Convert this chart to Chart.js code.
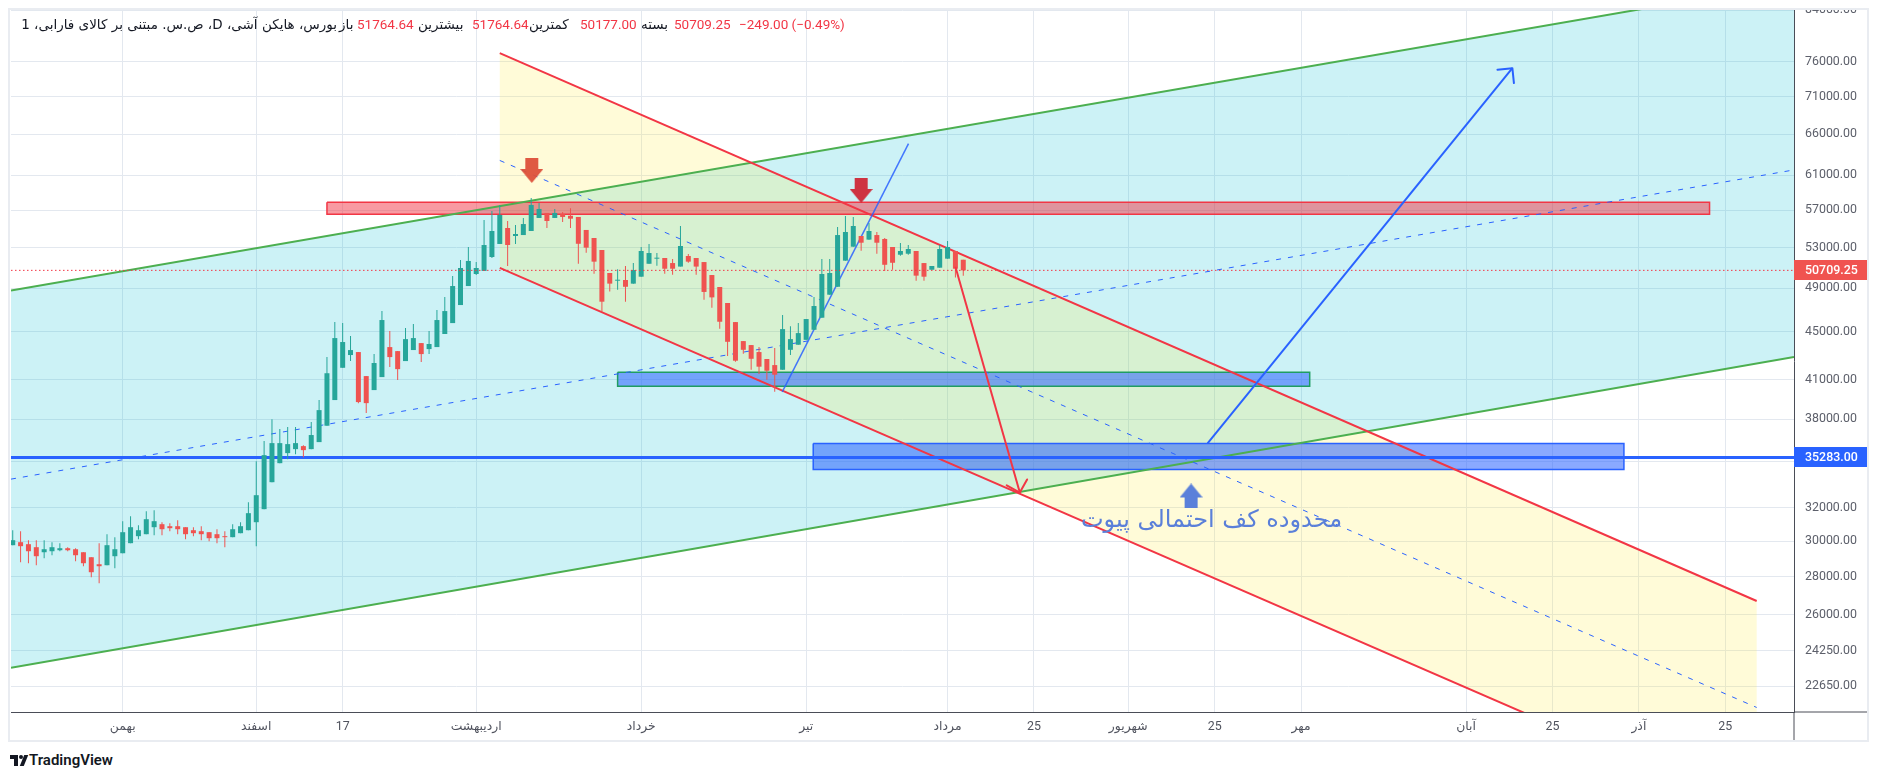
<!DOCTYPE html>
<html lang="fa">
<head>
<meta charset="utf-8">
<title>ص.س. مبتنی بر کالای فارابی</title>
<script src="https://cdn.jsdelivr.net/npm/chart.js@4.4.1/dist/chart.umd.min.js"></script>
<style>
  html, body { margin: 0; padding: 0; background: #fff; width: 1879px; height: 781px; overflow: hidden; }
  #frame { position: absolute; left: 8px; top: 8px; width: 1857px; height: 730px; border: 2px solid #e9ecf1; }
  #chart { position: absolute; left: 0; top: 0; }
  .lg { position: absolute; top: 5px; line-height: 18px; font-size: 13.5px; white-space: nowrap; color: #131722; font-family: Roboto, "DejaVu Sans", sans-serif; }
  .fa { font-family: "DejaVu Sans", sans-serif; direction: rtl; }
  .val { color: #f23645; }
  #brand { position: absolute; left: 10px; top: 751px; height: 18px; font-family: Roboto, sans-serif; font-size: 15px; font-weight: 600; color: #131722; }
  #brand .t1 { position: absolute; left: 0; top: 4px; width: 8px; height: 4px; background: #131722; }
  #brand .t2 { position: absolute; left: 4px; top: 4px; width: 4px; height: 11px; background: #131722; }
  #brand .t3 { position: absolute; left: 9px; top: 4px; width: 4px; height: 4px; border-radius: 2px; background: #131722; }
  #brand .t4 { position: absolute; left: 12px; top: 4px; width: 4px; height: 11px; background: #131722; transform: skewX(-22deg); }
  #brand span { position: absolute; left: 19px; top: 0; }
</style>
</head>
<body>
<div id="frame">
  <canvas id="chart" width="1857" height="730"></canvas>
  <div class="lg fa" style="left:0;width:327px;text-align:right;">بورس، هایکن آشی، D، ص.س. مبتنی بر کالای فارابی، 1</div>
  <div class="lg fa" style="left:329px;">باز</div>
  <div class="lg val" style="left:347px;">51764.64</div>
  <div class="lg fa" style="left:408px;">بیشترین</div>
  <div class="lg val" style="left:462px;">51764.64</div>
  <div class="lg fa" style="left:519px;">کمترین</div>
  <div class="lg val" style="left:570px;">50177.00</div>
  <div class="lg fa" style="left:631px;">بسته</div>
  <div class="lg val" style="left:664px;">50709.25</div>
  <div class="lg val" style="left:729px;">−249.00 (−0.49%)</div>
</div>
<div id="brand"><i class="t1"></i><i class="t2"></i><i class="t3"></i><i class="t4"></i><span>TradingView</span></div>
<script>
// daily heikin ashi candles, one per trading day
const haOpen = [29764, 29938, 29822, 29648, 29360, 29417, 29474, 29590, 29532, 29360,
  29077, 28685, 28630, 29134, 29303, 29880, 30288, 30405, 30820, 31000,
  30880, 30880, 30820, 30641, 30582, 30523, 30405, 30288, 30230, 30464,
  30641, 31120, 31917, 33630, 34893, 35580, 35856, 36066, 35856, 36347,
  37520, 39434, 41980, 43030, 43280, 41310, 40204, 41230, 43700, 43360,
  42530, 43449, 44040, 43530, 43700, 44820, 45780, 47410, 49190, 50350,
  50650, 52040, 53370, 55050, 54200, 54300, 54730, 56130, 56680, 56130,
  56570, 56370, 56240, 54840, 53990, 52750, 50450, 49700, 49770, 49420,
  50090, 51360, 51870, 51940, 51430, 51080, 52140, 51940, 51530, 50250,
  49100, 47600, 45870, 44210, 43870, 43280, 42700, 42200, 41820, 43470,
  43900, 44320, 45190, 46260, 48370, 49120, 51670, 53090, 54200, 53820,
  54300, 53890, 53060, 52270, 52370, 52650, 51430, 50770, 50970, 51870,
  52650, 51764.64];
const haHigh = [30641, 30582, 30054, 30054, 30054, 29938, 29880, 29648, 29590, 29360,
  29077, 29880, 30405, 30230, 31181, 31485, 30940, 31793, 31855, 31120,
  31060, 31241, 30820, 30820, 30880, 30523, 30700, 30582, 31000, 31120,
  32353, 35030, 36418, 38003, 37275, 37420, 37420, 36130, 37784, 39434,
  42860, 45870, 45780, 44640, 43280, 41310, 43110, 46860, 45080, 43360,
  45340, 45700, 44040, 45080, 46953, 48150, 50150, 51736, 53060, 51540,
  55910, 56900, 57560, 55800, 55360, 56130, 58350, 57790, 56680, 57120,
  56790, 57200, 56240, 54840, 53990, 52750, 50450, 50810, 51140, 51430,
  53060, 53370, 52440, 51940, 51840, 55260, 52340, 51940, 51530, 50250,
  49100, 47600, 45870, 44210, 43870, 43700, 42700, 43620, 46500, 45510,
  45780, 46140, 48150, 51840, 51840, 55150, 56350, 56240, 54200, 55580,
  54620, 53990, 53060, 53470, 53260, 52650, 51430, 51140, 53260, 53680,
  52650, 51764.64];
const haLow = [29764, 28796, 28741, 28630, 29021, 29190, 29417, 29417, 28852, 28574,
  27973, 27650, 28630, 28463, 29303, 29880, 30112, 30405, 30347, 30347,
  30582, 30405, 30112, 30288, 30054, 29996, 29880, 29648, 30230, 30464,
  30641, 29706, 31917, 33630, 34893, 35166, 35510, 35303, 35856, 36347,
  37520, 39434, 41980, 42530, 39200, 38450, 40204, 41230, 42040, 40992,
  42530, 43449, 42450, 43110, 43700, 44820, 45780, 47410, 49190, 50260,
  50650, 51940, 53370, 51140, 53370, 54300, 54730, 56130, 55050, 56130,
  55690, 55060, 51350, 52470, 50380, 46800, 48660, 48840, 47720, 49420,
  50090, 51360, 51160, 50380, 50290, 51080, 51460, 50290, 47900, 47170,
  45280, 42960, 42480, 43130, 41820, 41480, 41010, 40070, 41820, 43040,
  43900, 44320, 45190, 46260, 48370, 49120, 51670, 53090, 52680, 53820,
  52360, 50650, 50770, 52170, 52270, 49700, 49700, 50770, 50970, 51870,
  50000, 50177];
const haClose = [30054, 29706, 29417, 29134, 29532, 29648, 29590, 29474, 29190, 28741,
  28244, 28574, 29764, 29532, 30523, 30820, 30641, 31302, 31181, 30700,
  30760, 30700, 30405, 30464, 30405, 30170, 30170, 30230, 30700, 30880,
  31670, 32793, 35440, 36277, 36277, 36206, 36277, 35786, 36849, 38673,
  41540, 44470, 44130, 43449, 39280, 39200, 42370, 46052, 42860, 41870,
  44380, 44470, 43110, 43960, 46052, 46860, 49190, 50940, 51640, 50940,
  53260, 54730, 56460, 53260, 54410, 55470, 57560, 57120, 55800, 56680,
  56240, 56050, 53390, 52990, 51570, 47720, 49420, 49770, 49120, 50740,
  52650, 52440, 51940, 50870, 50870, 53160, 51570, 51080, 48630, 48120,
  45900, 44150, 42560, 43470, 42720, 42070, 41740, 41420, 45250, 44380,
  44900, 46140, 47320, 50350, 50450, 54300, 54620, 55260, 53500, 54730,
  53500, 51260, 51460, 52650, 52850, 50190, 50090, 51140, 52850, 53060,
  50870, 50709.25];

const xTickIdx = [14, 31, 42, 59, 80, 101, 119, 130, 142, 153, 164, 185, 196, 207, 218];
const xTickLabels = ['بهمن', 'اسفند', '17', 'اردیبهشت', 'خرداد', 'تیر', 'مرداد', '25', 'شهریور', '25', 'مهر', 'آبان', '25', 'آذر', '25'];
const yTicks = [22650, 24250, 26000, 28000, 30000, 32000, 35000, 38000, 41000, 45000, 49000, 53000, 57000, 61000, 66000, 71000, 76000, 84000];
const xRange = [-0.22, 226.75];
const yRange = [21540, 84000];

// drawings on the chart, points are [bar index, price]
const greenUpper = [[-0.22, 48770], [226.75, 88560]];
const greenLower = [[-0.22, 23470], [226.75, 42860]];
const greenMid = [[-0.22, 33830], [226.75, 61610]];
const redUpper = [[62, 77260], [222, 26710]];
const redLower = [[62, 50960], [222, 17680]];
const redMid = [[62, 62750], [222, 21730]];
const resistZone = [40, 216, 56540, 57860];
const supportZone = [77, 165.1, 40500, 41610];
const pivotZone = [101.9, 205.1, 34470, 36250];
const pivotLevel = 35283;
const lastClose = 50709.25;
const trendLine = [[97.96, 40070], [114.03, 64820]];
const upArrow = [[152.1, 36250], [190.9, 75040]];
const downArrow = [[120.0, 51070], [128.2, 32960]];
const topMarks = [[66.07, 61545], [108.0, 59200]];
const pivotMark = [[150.0, 32745]];
const pivotNote = [152.6, 31180];
const noteText = 'محدوده کف احتمالی پیوت';

const fontFamily = 'Roboto, "DejaVu Sans", sans-serif';
const candleColor = haClose.map((c, i) => c >= haOpen[i] ? '#26a69a' : '#ef5350');

function makeArrow(color, up) {
  const c = document.createElement('canvas');
  c.width = 23; c.height = 25;
  const g = c.getContext('2d');
  g.fillStyle = color;
  if (up) { g.translate(0, 25); g.scale(1, -1); }
  g.fillRect(5, 0, 13, 11);
  g.beginPath();
  g.moveTo(0, 11); g.lineTo(23, 11); g.lineTo(11.5, 25);
  g.closePath();
  g.fill();
  return c;
}

function segment(points, color, width, dash, order, extra) {
  return Object.assign({
    type: 'line',
    data: points.map(p => ({ x: p[0], y: p[1] })),
    borderColor: color,
    borderWidth: width,
    borderDash: dash || [],
    pointRadius: 0,
    fill: false,
    tension: 0,
    clip: 0,
    order: order
  }, extra || {});
}

function box(z, fillColor, lineColor, order) {
  const pts = [[z[0], z[3]], [z[1], z[3]], [z[1], z[2]], [z[0], z[2]], [z[0], z[3]]];
  return segment(pts, lineColor, 1.5, null, order, { fill: 'shape', backgroundColor: fillColor, borderJoinStyle: 'miter' });
}

function band(upper, lower, fillColor, order) {
  const pts = [upper[0], upper[1], lower[1], lower[0], upper[0]];
  return segment(pts, 'rgba(0,0,0,0)', 0, null, order, { fill: 'shape', backgroundColor: fillColor });
}

const chartPlugin = {
  id: 'drawings',
  afterDatasetsDraw(chart) {
    const ctx = chart.ctx;
    chart.data.datasets.forEach((ds, i) => {
      if (!ds.arrowHead) return;
      const pts = chart.getDatasetMeta(i).data;
      const a = pts[pts.length - 2], b = pts[pts.length - 1];
      const ang = Math.atan2(b.y - a.y, b.x - a.x);
      ctx.save();
      ctx.strokeStyle = ds.borderColor;
      ctx.lineWidth = ds.borderWidth;
      ctx.lineCap = 'round';
      ctx.beginPath();
      [Math.PI * 0.75, -Math.PI * 0.75].forEach(d => {
        ctx.moveTo(b.x, b.y);
        ctx.lineTo(b.x + 15 * Math.cos(ang + d), b.y + 15 * Math.sin(ang + d));
      });
      ctx.stroke();
      ctx.restore();
    });

    const { x, y } = chart.scales;
    ctx.save();
    ctx.font = '24px "DejaVu Sans", sans-serif';
    ctx.fillStyle = '#5a7fd9';
    ctx.textAlign = 'center';
    ctx.textBaseline = 'middle';
    ctx.direction = 'rtl';
    ctx.fillText(noteText, x.getPixelForValue(pivotNote[0]), y.getPixelForValue(pivotNote[1]));
    ctx.restore();
  },
  afterDraw(chart) {
    const { ctx, chartArea: a } = chart;
    const y = chart.scales.y;
    ctx.save();
    ctx.strokeStyle = '#4a4d57';
    ctx.lineWidth = 1;
    ctx.beginPath();
    ctx.moveTo(a.right, a.bottom); ctx.lineTo(chart.width, a.bottom);
    ctx.moveTo(a.right, a.bottom); ctx.lineTo(a.right, chart.height);
    ctx.stroke();
    [[lastClose, '#f05350'], [pivotLevel, '#2962ff']].forEach(([v, bg]) => {
      const py = Math.round(y.getPixelForValue(v));
      ctx.fillStyle = bg;
      ctx.fillRect(a.right, py - 10, chart.width - a.right, 20);
      ctx.fillStyle = '#fff';
      ctx.font = '500 12.4px ' + fontFamily;
      ctx.textAlign = 'left';
      ctx.textBaseline = 'middle';
      ctx.fillText(v.toFixed(2), a.right + 11, py + 1);
    });
    ctx.restore();
  }
};

const datasets = [
  band(greenUpper, greenLower, 'rgba(0,188,212,0.2)', 20),
  band(redUpper, redLower, 'rgba(255,235,59,0.2)', 19),
  box(resistZone, 'rgba(242,54,69,0.5)', '#f23645', 18),
  box(supportZone, 'rgba(41,98,255,0.55)', '#1f9d62', 17),
  box(pivotZone, 'rgba(41,98,255,0.55)', '#2962ff', 16),
  segment(greenUpper, '#4caf50', 2, null, 15),
  segment(greenLower, '#4caf50', 2, null, 15),
  segment(greenMid, '#2962ff', 1, [5, 7], 15),
  segment(redUpper, '#f23645', 2, null, 14),
  segment(redLower, '#f23645', 2, null, 14),
  segment(redMid, '#2962ff', 1, [5, 7], 14),
  segment(trendLine, 'rgba(41,98,255,0.85)', 1.5, null, 13),
  segment([[xRange[0], pivotLevel], [xRange[1], pivotLevel]], '#2962ff', 3, null, 12),
  {
    type: 'bar',
    data: haHigh.map((h, i) => ({ x: i, y: [haLow[i], h] })),
    backgroundColor: candleColor,
    barThickness: 1,
    grouped: false,
    inflateAmount: 0,
    order: 6
  },
  {
    type: 'bar',
    data: haOpen.map((o, i) => ({ x: i, y: [o, haClose[i]] })),
    backgroundColor: candleColor,
    barThickness: 5,
    minBarLength: 1,
    grouped: false,
    inflateAmount: 0,
    order: 5
  },
  segment([[xRange[0], lastClose], [xRange[1], lastClose]], '#f23645', 1, [1.5, 2.5], 4),
  segment(upArrow, '#2962ff', 2, null, 3, { arrowHead: true }),
  segment(downArrow, '#f23645', 2, null, 3, { arrowHead: true }),
  segment(topMarks, '#d0303f', 0, null, 1, {
    showLine: false, pointRadius: 12,
    pointStyle: [makeArrow('rgba(221,80,58,0.95)', false), makeArrow('rgba(205,40,55,0.95)', false)]
  }),
  segment(pivotMark, '#5a80da', 0, null, 1, {
    showLine: false, pointRadius: 12,
    pointStyle: makeArrow('#5a80da', true)
  })
];

new Chart(document.getElementById('chart'), {
  type: 'line',
  data: { datasets },
  options: {
    responsive: false,
    animation: false,
    events: [],
    layout: { autoPadding: false, padding: { left: 1, top: 0, right: 0, bottom: 0 } },
    plugins: { legend: { display: false }, tooltip: { enabled: false } },
    scales: {
      x: {
        type: 'linear',
        min: xRange[0],
        max: xRange[1],
        offset: false,
        grid: { color: '#e3e8ef', drawTicks: false, offset: false },
        border: { display: true, color: '#4a4d57', width: 1 },
        afterBuildTicks: s => { s.ticks = xTickIdx.map(v => ({ value: v })); },
        afterFit: s => { s.height = 28; s.paddingLeft = 0; s.paddingRight = 0; },
        ticks: {
          autoSkip: false,
          maxRotation: 0,
          padding: 7,
          color: '#50535e',
          font: { family: fontFamily, size: 12.4 },
          callback: (v, i) => xTickLabels[i]
        }
      },
      y: {
        type: 'logarithmic',
        position: 'right',
        min: yRange[0],
        max: yRange[1],
        grid: { color: '#e3e8ef', drawTicks: false },
        border: { display: true, color: '#4a4d57', width: 1 },
        afterBuildTicks: s => { s.ticks = yTicks.map(v => ({ value: v })); },
        afterFit: s => { s.width = 73; s.paddingTop = 0; s.paddingBottom = 0; },
        ticks: {
          padding: 11,
          color: '#5d606b',
          font: { family: fontFamily, size: 12.4 },
          callback: v => v === 35000 ? '' : Number(v).toFixed(2)
        }
      }
    }
  },
  plugins: [chartPlugin]
});
</script>
</body>
</html>
